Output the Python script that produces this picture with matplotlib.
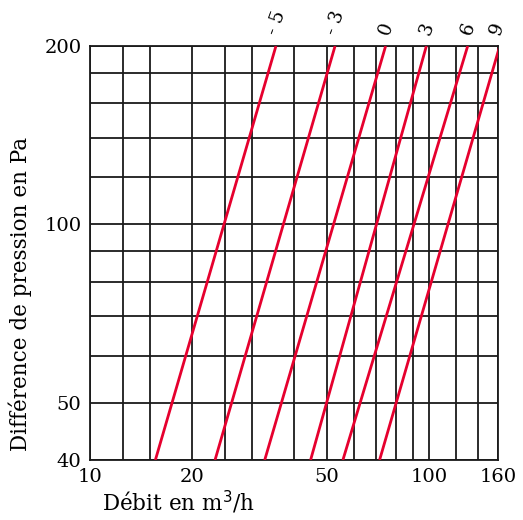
import numpy as np
import matplotlib.pyplot as plt

plt.rcParams['font.family'] = ['DejaVu Serif']

# reglages (labels en haut) et debits lus a 40 Pa et a 200 Pa
reglages = ['- 5', '- 3', '0', '3', '6', '9']
debit_40 = [15.6, 23.4, 32.8, 44.8, 55.8, 71.6]
debit_200 = [35.4, 52.9, 74.6, 98.4, 130.3, 162.0]
pression_bornes = [40, 200]

x_grille = [10, 12.5, 15, 20, 25, 30, 40, 50, 60, 70, 80, 90, 100, 120, 140, 160]
y_grille = [40, 50, 60, 70, 80, 90, 100, 120, 140, 160, 180, 200]
x_ticks = [10, 20, 50, 100, 160]
y_ticks = [40, 50, 100, 200]

fig = plt.figure(figsize=(5.23, 5.20), dpi=100)
ax = fig.add_axes([0.172, 0.1154, 0.78, 0.7961])
ax.set_xscale('log')
ax.set_yscale('log')
ax.set_xlim(10, 160)
ax.set_ylim(40, 200)

for xv in x_grille:
    ax.axvline(xv, color='#1a1a1a', lw=1.3, zorder=1)
for yv in y_grille:
    ax.axhline(yv, color='#1a1a1a', lw=1.3, zorder=1)

rouge = '#e6002e'
for lab, q1, q2 in zip(reglages, debit_40, debit_200):
    ax.plot([q1, q2], pression_bornes, color=rouge, lw=2.0, zorder=3,
            solid_capstyle='butt')
    qt = min(q2, 159)
    ax.annotate(lab, xy=(qt, 200), xycoords='data', xytext=(0.5, 6),
                textcoords='offset points', rotation=70, ha='center',
                va='bottom', fontsize=13.5, annotation_clip=False)

ax.set_xticks(x_ticks)
ax.set_xticklabels([str(v) for v in x_ticks])
ax.set_yticks(y_ticks)
ax.set_yticklabels([str(v) for v in y_ticks])
ax.minorticks_off()
ax.tick_params(length=0, labelsize=14, pad=6)
for s in ax.spines.values():
    s.set_linewidth(1.3)
    s.set_color('#1a1a1a')

ax.set_xlabel('Débit en m$^3$/h', fontsize=15.5, loc='left')
ax.xaxis.set_label_coords(0.029, -0.07)
ax.set_ylabel('Différence de pression en Pa', fontsize=15.5)
ax.yaxis.set_label_coords(-0.142, 0.40)

fig.savefig('out.png', dpi=100)
